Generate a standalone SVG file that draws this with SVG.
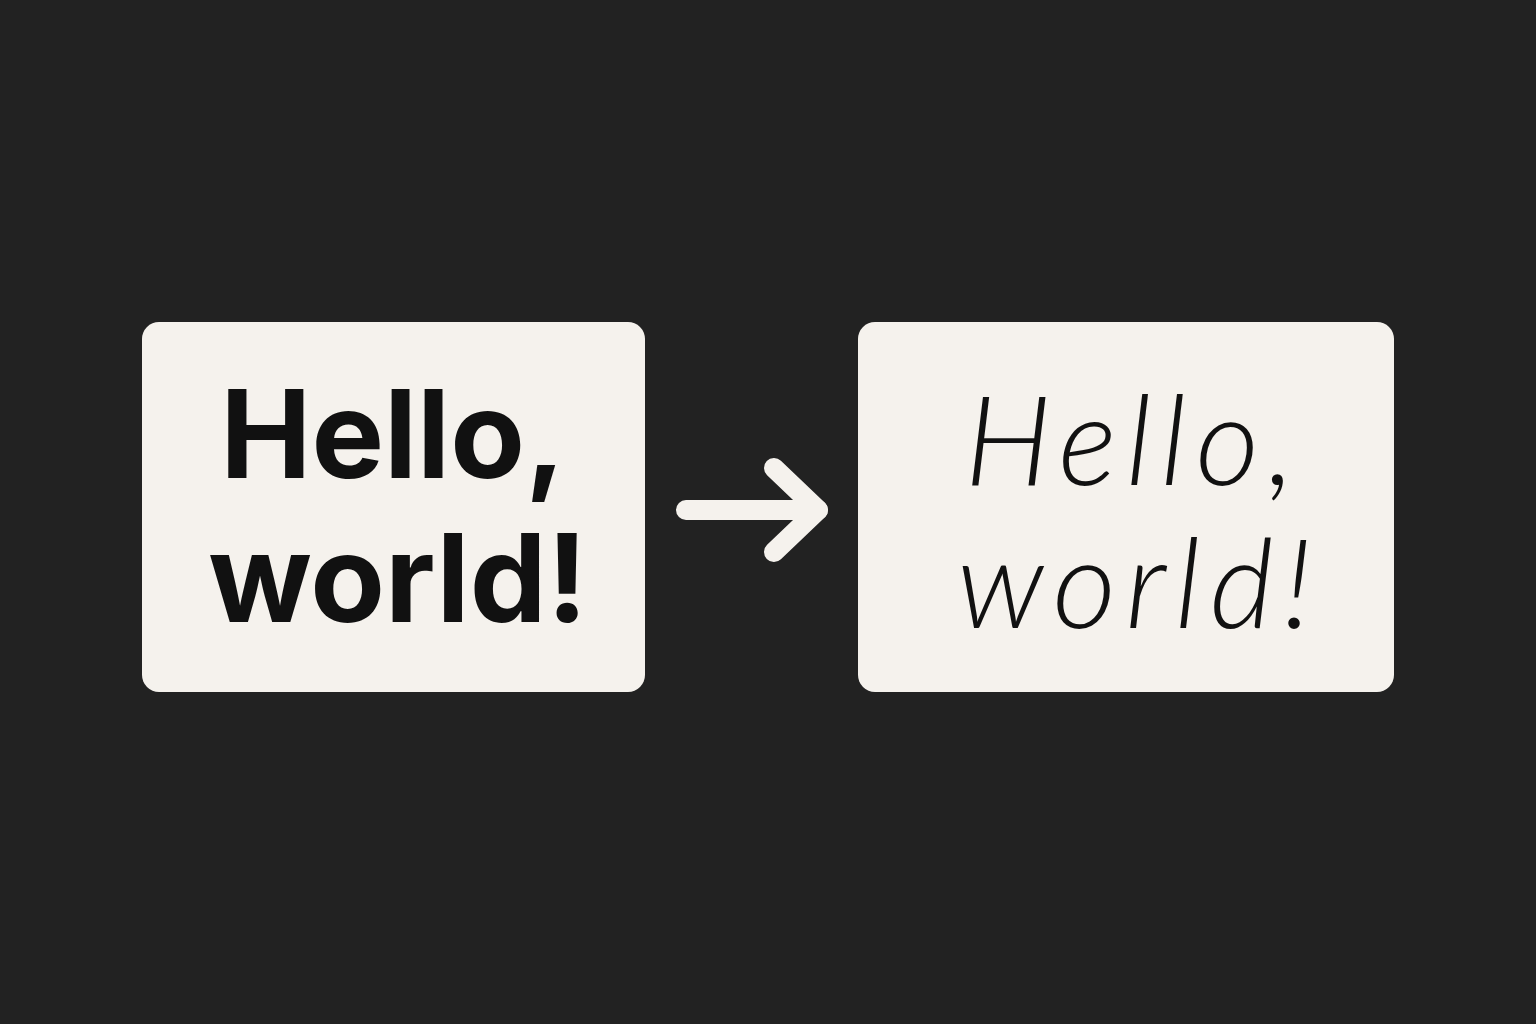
<svg xmlns="http://www.w3.org/2000/svg" width="1536" height="1024" viewBox="0 0 1536 1024">
<style>
.box{fill:#f5f2ed}
.bold{font-family:"Inter","Liberation Sans",Arial,sans-serif;font-weight:700;font-size:122px;fill:#111111;text-anchor:middle}
.script{font-family:"Lato","Open Sans",sans-serif;font-weight:300;font-style:italic;font-size:124px;letter-spacing:9px;fill:#111111;text-anchor:middle}
.conn{fill:none;stroke:#f5f2ed;stroke-width:20;stroke-linecap:round;stroke-linejoin:round}
</style>
<rect width="1536" height="1024" fill="#222222"/>
<g id="node-plain">
<rect class="box" x="142" y="322" width="503" height="370" rx="17"/>
<text class="bold" x="393" y="478">Hello,</text>
<text class="bold" x="398" y="622">world!</text>
</g>
<g id="node-script">
<rect class="box" x="858" y="322" width="536" height="370" rx="17"/>
<text class="script" x="1134" y="485">Hello,</text>
<text class="script" x="1139" y="628">world!</text>
</g>
<g id="connectors">
<path class="conn" d="M686 510 H818"/>
<path class="conn" d="M774 468 L818 510 L774 552"/>
</g>
</svg>
